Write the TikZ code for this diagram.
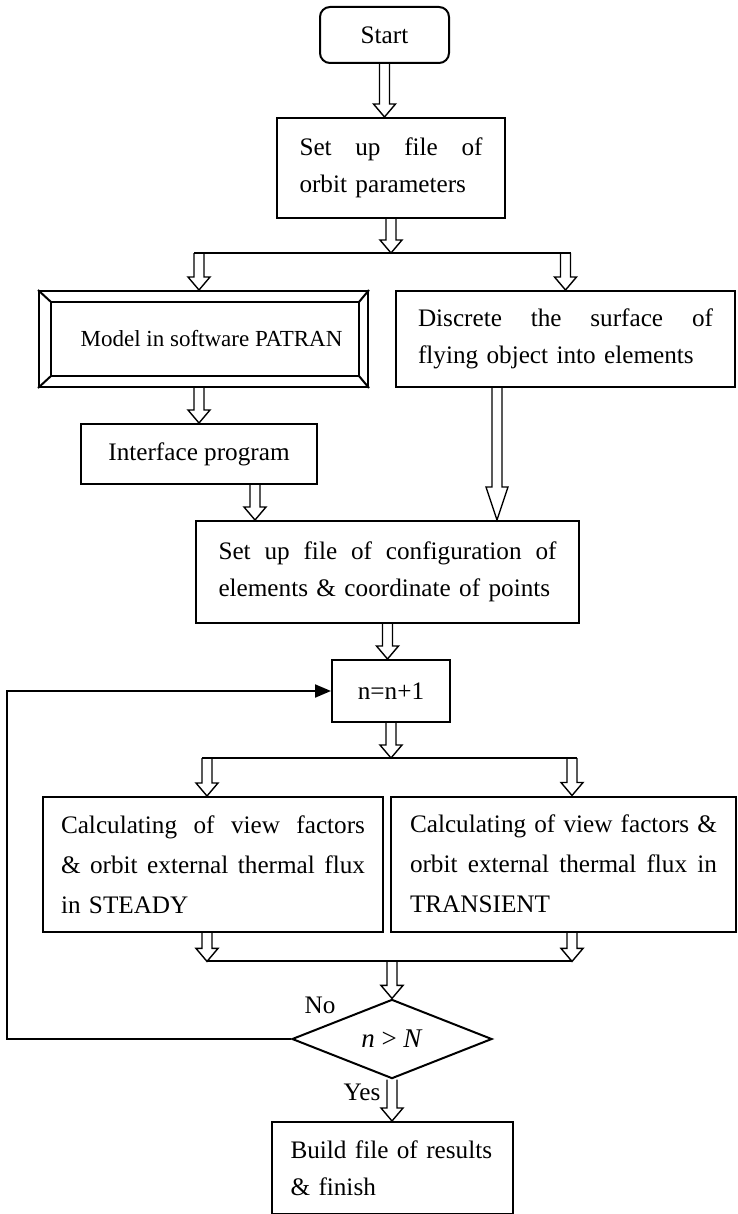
\documentclass[tikz,border=0pt]{standalone}
\usepackage{fontspec}
\setmainfont{Liberation Serif}
\usetikzlibrary{calc,shapes.geometric,arrows.meta}
\newcommand{\boxfont}{\fontsize{12.6}{18.5}\selectfont}
\newcommand{\calcfont}{\fontsize{12.6}{20}\selectfont}
% hollow double-lined arrow pointing down, [head length]{from}{to}
\newcommand{\hollowarrow}[3][6.5pt]{%
  \draw[hollow] let \p1=(#2), \p2=(#3) in
    (\x1-2.5pt,\y1) -- (\x1-2.5pt,\y2+#1) -- (\x1-5.5pt,\y2+#1) -- (\x1,\y2)
    -- (\x1+5.5pt,\y2+#1) -- (\x1+2.5pt,\y2+#1) -- (\x1+2.5pt,\y1);}

\begin{document}
\begin{tikzpicture}[x=0.5pt,y=-0.5pt,font=\boxfont,line width=1pt,
  box/.style={draw,line width=1pt,inner sep=0pt},
  hollow/.style={line width=0.7pt,line join=miter}]

\useasboundingbox (0,0) rectangle (738,1214);

% boxes
\node[box,rounded corners=5pt,minimum width=64.5pt,minimum height=28pt] (start) at (384.5,35) {Start};
\node[box,minimum width=114pt,minimum height=50pt,text width=91.5pt,align=left] (setup) at (391,168)
  {Set\hfill up\hfill file\hfill of\\orbit parameters};
\node[box,font=\fontsize{11.5}{14}\selectfont,minimum width=164.5pt,minimum height=48pt] (model) at (203.5,339)
  {\hspace*{8pt}Model in software PATRAN};
\node[box,minimum width=169.5pt,minimum height=48pt,text width=147.5pt,align=left] (discrete) at (565.5,339)
  {Discrete\hfill the\hfill surface\hfill of\\flying object into elements};
\node[box,minimum width=118pt,minimum height=30pt] (iface) at (199,454) {Interface program};
\node[box,minimum width=191.5pt,minimum height=51pt,text width=169pt,align=left] (config) at (387.5,572)
  {Set\hfill up\hfill file\hfill of\hfill configuration\hfill of\\elements \& coordinate of points};
\node[box,minimum width=59pt,minimum height=31pt] (count) at (391,691) {n=n+1};
\node[box,font=\calcfont,minimum width=170pt,minimum height=67.5pt,text width=152pt,align=left] (steady) at (213,864.5)
  {Calculating\hfill of\hfill view\hfill factors\\\&\hfill orbit\hfill external\hfill thermal\hfill flux\\in STEADY};
\node[box,font=\calcfont,minimum width=172.5pt,minimum height=67.5pt,text width=153.5pt,align=left] (transient) at (563.5,864)
  {Calculating\hfill of\hfill view\hfill factors\hfill\&\\orbit\hfill external\hfill thermal\hfill flux\hfill in\\TRANSIENT};
\node[draw,diamond,line width=1pt,minimum width=100pt,minimum height=31.5pt,inner sep=0pt] (test) at (392,1039)
  {\fontsize{13.5}{13.5}\selectfont\textit{n} > \textit{N}};
\node[box,minimum width=120.5pt,minimum height=46pt,text width=102pt,align=left] (build) at (392.5,1168)
  {Build file of results\\\& finish};
\node (nolabel) at (320,1005) {No};
\node (yeslabel) at (362,1092) {Yes};

% bevel of the PATRAN box
\coordinate (bevnw) at ($(model.north west)+(13,12)$);
\coordinate (bevse) at ($(model.south east)+(-10,-12)$);
\draw (bevnw) rectangle (bevse);
\draw (model.north west) -- (bevnw);
\draw (model.south east) -- (bevse);
\draw (model.north east) -- (bevnw -| bevse);
\draw (model.south west) -- (bevnw |- bevse);

% first split
\coordinate (split1) at ($(setup.south)+(0,34)$);
\coordinate (b1l) at (split1 -| iface.north);
\coordinate (b1r) at (split1 -| discrete.north);
\hollowarrow{start.south}{start.south |- setup.north}
\hollowarrow{setup.south}{split1}
\draw ($(b1l)+(-5,0)$) -- ($(b1r)+(5,0)$);
\hollowarrow{b1l}{b1l |- model.north}
\hollowarrow{b1r}{b1r |- discrete.north}
\hollowarrow{iface.north |- model.south}{iface.north}
\coordinate (ifout) at ($(iface.south)+(56,0)$);
\hollowarrow{ifout}{ifout |- config.north}
\coordinate (disout) at ($(discrete.south)+(-68.5,0)$);
\hollowarrow[16.5pt]{disout}{disout |- config.north}
\hollowarrow{config.south}{config.south |- count.north}

% second split
\coordinate (split2) at ($(count.south)+(0,35)$);
\coordinate (b2l) at ($(split2 -| steady.north)+(-6,0)$);
\coordinate (b2r) at ($(split2 -| transient.north)+(8.5,0)$);
\hollowarrow{count.south}{split2}
\draw ($(b2l)+(-5,0)$) -- ($(b2r)+(5,0)$);
\hollowarrow{b2l}{b2l |- steady.north}
\hollowarrow{b2r}{b2r |- transient.north}

% merge
\coordinate (merge) at ($(test.north)+(0,-37)$);
\coordinate (m2l) at (merge -| b2l);
\coordinate (m2r) at (merge -| b2r);
\draw (m2l) -- (m2r);
\hollowarrow{m2l |- steady.south}{m2l}
\hollowarrow{m2r |- transient.south}{m2r}
\hollowarrow{merge}{test.north}
\hollowarrow{test.south}{build.north}

% loop back
\coordinate (loopx) at (7,1039);
\draw[-{Triangle[length=8pt,width=6.5pt]}] (test.west) -- (test.west -| loopx) |- (count.west);
\end{tikzpicture}
\end{document}
